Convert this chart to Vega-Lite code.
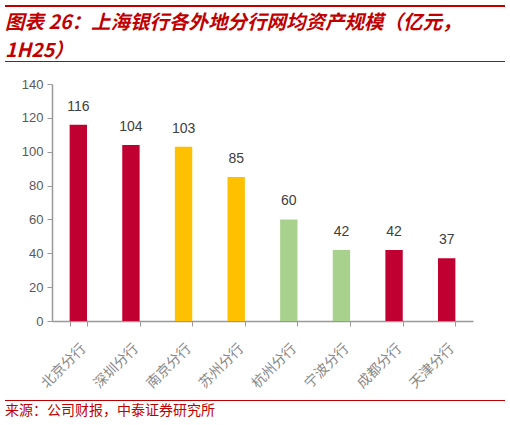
{
  "$schema": "https://vega.github.io/schema/vega-lite/v6.json",
  "background": "#FFFFFF",
  "padding": {"left": 5, "right": 5, "top": 5, "bottom": 5},
  "autosize": {"type": "pad"},
  "config": {
    "view": {"stroke": null},
    "font": "Liberation Sans"
  },
  "spacing": 9,
  "vconcat": [
    {
      "spacing": 16,
      "vconcat": [
        {
          "spacing": 0,
          "vconcat": [
            {
              "width": 500,
              "height": 2,
              "view": {"fill": "#C00000", "stroke": null},
              "data": {"values": []},
              "mark": "point",
              "encoding": {},
              "title": {
                "text": ["图表 26：上海银行各外地分行网均资产规模（亿元，", "1H25）"],
                "orient": "bottom",
                "anchor": "start",
                "font": "Noto Sans CJK SC",
                "fontSize": 19.5,
                "fontWeight": "bold",
                "fontStyle": "italic",
                "color": "#C00000",
                "lineHeight": 28,
                "offset": 7
              }
            },
            {
              "width": 500,
              "height": 1,
              "view": {"fill": "#C00000", "stroke": null},
              "data": {"values": []},
              "mark": "point",
              "encoding": {}
            }
          ]
        },
        {
          "width": 468,
          "height": 237,
          "data": {
            "values": [
              {"分行": "北京分行", "资产": 116, "组": "a"},
              {"分行": "深圳分行", "资产": 104, "组": "a"},
              {"分行": "南京分行", "资产": 103, "组": "b"},
              {"分行": "苏州分行", "资产": 85, "组": "b"},
              {"分行": "杭州分行", "资产": 60, "组": "c"},
              {"分行": "宁波分行", "资产": 42, "组": "c"},
              {"分行": "成都分行", "资产": 42, "组": "a"},
              {"分行": "天津分行", "资产": 37, "组": "a"}
            ]
          },
          "encoding": {
            "x": {
              "field": "分行",
              "type": "nominal",
              "sort": null,
              "scale": {"range": [47, 468], "paddingInner": 0.67, "paddingOuter": 0.335},
              "axis": {
                "title": null,
                "labelAngle": -45,
                "labelFont": "Noto Sans CJK SC",
                "labelFontSize": 14,
                "labelColor": "#888888",
                "labelPadding": 15,
                "tickBand": "extent",
                "tickSize": 5,
                "tickColor": "#999999",
                "domainColor": "#999999",
                "domainWidth": 1.5
              }
            },
            "y": {
              "field": "资产",
              "type": "quantitative",
              "scale": {"domain": [0, 140]},
              "axis": {
                "title": null,
                "grid": false,
                "offset": -47,
                "values": [0, 20, 40, 60, 80, 100, 120, 140],
                "labelFontSize": 13,
                "labelColor": "#595959",
                "tickSize": 5,
                "labelPadding": 4,
                "tickColor": "#999999",
                "domainColor": "#999999",
                "domainWidth": 1.5,
                "minExtent": 0
              }
            }
          },
          "layer": [
            {
              "mark": {"type": "bar"},
              "encoding": {
                "color": {
                  "field": "组",
                  "type": "nominal",
                  "scale": {"domain": ["a", "b", "c"], "range": ["#C00030", "#FFC000", "#A9D18E"]},
                  "legend": null
                }
              }
            },
            {
              "mark": {"type": "text", "dy": -14, "baseline": "alphabetic", "fontSize": 14, "color": "#404040"},
              "encoding": {"text": {"field": "资产"}}
            }
          ]
        }
      ]
    },
    {
      "width": 500,
      "height": 1,
      "view": {"fill": "#C00000", "stroke": null},
      "data": {"values": []},
      "mark": "point",
      "encoding": {},
      "title": {
        "text": "来源：公司财报，中泰证券研究所",
        "orient": "bottom",
        "anchor": "start",
        "font": "Noto Sans CJK SC",
        "fontSize": 14,
        "fontWeight": "normal",
        "color": "#C00000",
        "offset": 3
      }
    }
  ]
}
